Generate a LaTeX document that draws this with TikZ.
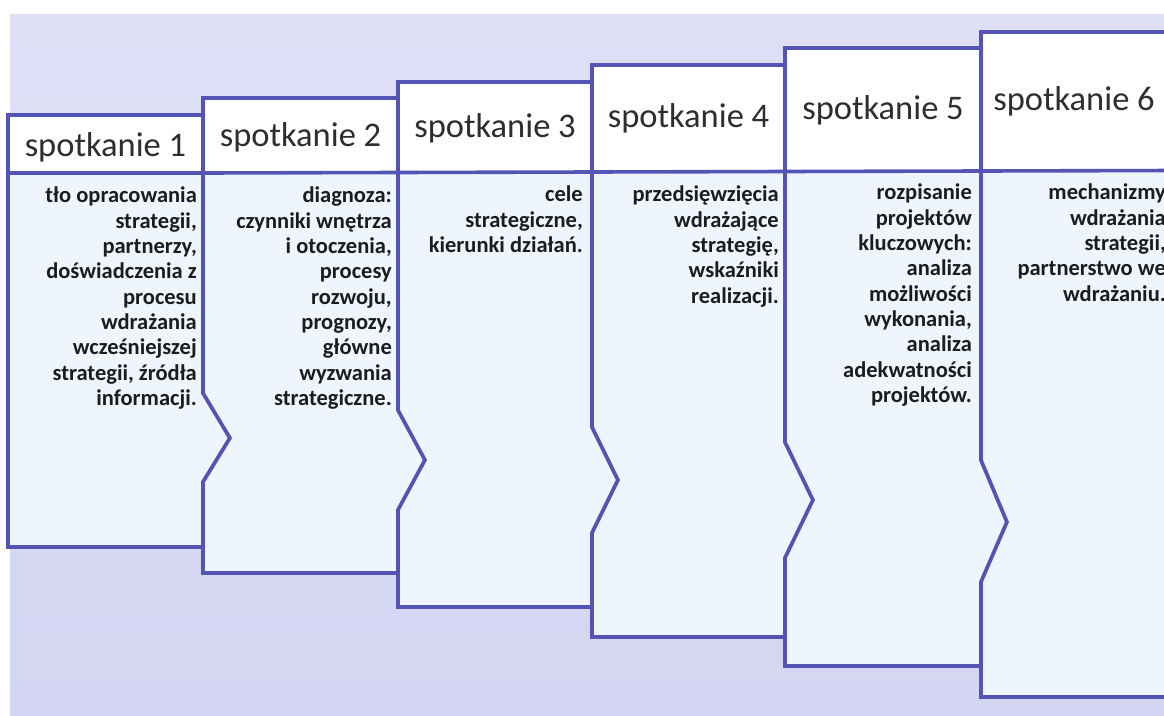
\documentclass[tikz,border=0pt]{standalone}
\usepackage{fontspec}
\setmainfont{Carlito}
\definecolor{bgtop}{HTML}{DFE0F6}
\definecolor{bgbot}{HTML}{D3D5F2}
\definecolor{boxfill}{HTML}{EEF5FC}
\definecolor{edge}{HTML}{5454B4}
\definecolor{headtxt}{HTML}{2E2E2E}
\definecolor{bodytxt}{HTML}{1C1C1C}
\tikzset{
  boxline/.style={draw=edge, line width=3.6pt, line join=miter, fill=boxfill},
  headline/.style={draw=edge, line width=3.6pt},
  headfill/.style={fill=white},
  header/.style={inner sep=0pt, text=headtxt, font=\fontsize{34.5}{40}\selectfont},
  body/.style={inner sep=0pt, anchor=north east, align=right, text=bodytxt,
    font=\bfseries\fontsize{22.5}{25.3}\selectfont},
}
\begin{document}
\begin{tikzpicture}[x=1pt,y=-1pt]
\useasboundingbox (0,0) rectangle (1164,715);
\clip (0,0) rectangle (1164,715);
\fill[white] (0,0) rectangle (1164,715);
\shade[top color=bgtop, bottom color=bgbot] (10,14) rectangle (1164,715);
% box fills and outlines
\path[boxline] (8,115) -- (203,115) -- (203,393) -- (230,438) -- (203,482) -- (203,547) -- (8,547) -- cycle;
\path[boxline] (203,98) -- (398,98) -- (398,410) -- (425,460) -- (398,510) -- (398,573) -- (203,573) -- (203,482) -- (230,438) -- (203,393) -- cycle;
\path[boxline] (398,82) -- (592,82) -- (592,427) -- (618,480) -- (592,533) -- (592,607) -- (398,607) -- (398,510) -- (425,460) -- (398,410) -- cycle;
\path[boxline] (592,65) -- (785,65) -- (785,442) -- (813,500) -- (785,558) -- (785,637) -- (592,637) -- (592,533) -- (618,480) -- (592,427) -- cycle;
\path[boxline] (785,48) -- (981,48) -- (981,460) -- (1007,522) -- (981,582) -- (981,666) -- (785,666) -- (785,558) -- (813,500) -- (785,442) -- cycle;
\path[boxline] (981,32) -- (1176,32) -- (1176,697) -- (981,697) -- (981,582) -- (1007,522) -- (981,460) -- cycle;
% header areas
\fill[headfill] (10,117) rectangle (201,172);
\fill[headfill] (205,100) rectangle (396,172);
\fill[headfill] (400,84) rectangle (590,172);
\fill[headfill] (594,67) rectangle (783,172);
\fill[headfill] (787,50) rectangle (979,171);
\fill[headfill] (983,34) rectangle (1176,171);
\draw[headline] (8,173) -- (203,173) -- (398,172.5) -- (592,172) -- (785,171.5) -- (981,171) -- (1176,170.5);
\draw[headline] (203,98) -- (203,173) (398,82) -- (398,173) (592,65) -- (592,172) (785,48) -- (785,172) (981,32) -- (981,171);
% headers
\node[header] (h1) at (105.5,147) {spotkanie 1};
\node[header] (h2) at (300.5,137) {spotkanie 2};
\node[header] (h3) at (495,128) {spotkanie 3};
\node[header] (h4) at (688.5,118) {spotkanie 4};
\node[header] (h5) at (883,110) {spotkanie 5};
\node[header] (h6) at (1074,101) {spotkanie 6};
% bodies
\node[body] (b1) at (197,187) {tło opracowania\\strategii,\\partnerzy,\\doświadczenia z\\procesu\\wdrażania\\wcześniejszej\\strategii, źródła\\informacji.};
\node[body] (b2) at (392,187) {diagnoza:\\czynniki wnętrza\\i otoczenia,\\procesy\\rozwoju,\\prognozy,\\główne\\wyzwania\\strategiczne.};
\node[body] (b3) at (583,186) {cele\\strategiczne,\\kierunki działań.};
\node[body] (b4) at (779,186) {przedsięwzięcia\\wdrażające\\strategię,\\wskaźniki\\realizacji.};
\node[body] (b5) at (972,184) {rozpisanie\\projektów\\kluczowych:\\analiza\\możliwości\\wykonania,\\analiza\\adekwatności\\projektów.};
\node[body] (b6) at (1166,184) {mechanizmy\\wdrażania\\strategii,\\partnerstwo we\\wdrażaniu.};
\end{tikzpicture}
\end{document}
